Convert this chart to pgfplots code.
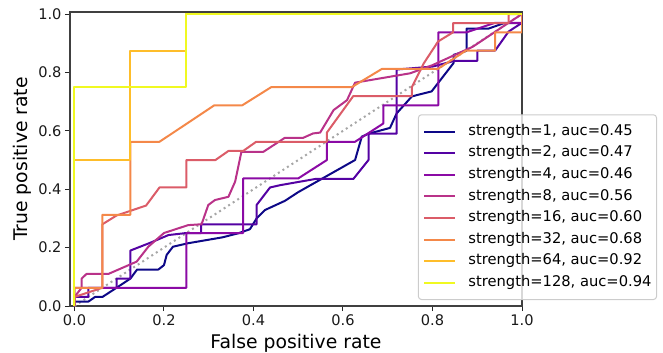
\documentclass[border=0pt]{standalone}
\usepackage{fontspec}
\setmainfont{DejaVu Sans}
\usepackage{pgfplots}
\pgfplotsset{compat=1.18}
\definecolor{p1}{HTML}{0D0887}
\definecolor{p2}{HTML}{5402A3}
\definecolor{p3}{HTML}{8B0AA5}
\definecolor{p4}{HTML}{B93289}
\definecolor{p5}{HTML}{DB5C68}
\definecolor{p6}{HTML}{F48849}
\definecolor{p7}{HTML}{FEBD2A}
\definecolor{p8}{HTML}{F0F921}
\begin{document}
\begin{tikzpicture}
\useasboundingbox (-70bp,-47bp) rectangle (593bp,306bp);
\begin{axis}[
  at={(0,0)}, anchor=south west,
  scale only axis, width=452bp, height=294bp,
  xmin=-0.01, xmax=1, ymin=0, ymax=1.007,
  xtick={0,0.2,0.4,0.6,0.8,1.0}, ytick={0,0.2,0.4,0.6,0.8,1.0},
  xtick pos=lower, ytick pos=left,
  tick align=outside, major tick length=5bp,
  tick style={black!85, line width=1bp},
  axis line style={black!75, line width=1.1bp},
  /pgf/number format/.cd, fixed, fixed zerofill, precision=1, assume math mode=true,
  /pgfplots/.cd,
  tick label style={font=\fontsize{14.6bp}{17bp}\selectfont, black!90},
  xlabel={False positive rate}, ylabel={True positive rate},
  label style={font=\fontsize{18.8bp}{22bp}\selectfont},
  xlabel style={at={([yshift=-42bp]axis description cs:0.5,0)}, anchor=base},
  ylabel style={at={([xshift=-42bp]axis description cs:0,0.5)}, anchor=base},
  every axis plot/.append style={line width=2bp, line join=round},
  legend image code/.code={\draw[#1] (0bp,0bp) -- (31bp,0bp);},
  legend cell align=left,
  legend style={at={(1.2987,0.0204)}, anchor=south east,
    draw=black!20, line width=1bp, fill=white, fill opacity=0.8, text opacity=1,
    rounded corners=3bp,
    font=\fontsize{14.7bp}{17bp}\selectfont,
    nodes={inner sep=0pt, text height=11bp, text depth=3.5bp},
    /tikz/every odd column/.append style={column sep=12bp},
    row sep=7.1bp, inner xsep=5bp, inner ysep=9.5bp},
]
\addplot[forget plot, gray!70, line width=2bp, dash pattern=on 2bp off 3.4bp] coordinates {(0,0) (1,1)};
\addplot[p1] coordinates {(0,0) (0,0.015) (0.031,0.015) (0.046,0.031) (0.0625,0.031) (0.094,0.0625) (0.125,0.094) (0.14,0.125) (0.1875,0.125) (0.2,0.14) (0.206,0.175) (0.22,0.203) (0.254,0.215) (0.33,0.235) (0.366,0.249) (0.392,0.263) (0.407,0.3) (0.426,0.329) (0.47,0.36) (0.5,0.39) (0.627,0.5) (0.642,0.58) (0.657,0.59) (0.705,0.61) (0.72,0.66) (0.754,0.718) (0.798,0.735) (0.847,0.832) (0.847,0.86) (0.876,0.874) (0.876,0.95) (0.925,0.95) (0.96,0.969) (1,0.969) (1,1)};
\addlegendentry{strength=1, auc=0.45}
\addplot[p2] coordinates {(0,0) (0,0.031) (0.031,0.031) (0.031,0.0625) (0.094,0.0625) (0.094,0.094) (0.125,0.094) (0.125,0.19) (0.17,0.217) (0.21,0.243) (0.25,0.25) (0.283,0.25) (0.283,0.28) (0.407,0.28) (0.407,0.346) (0.437,0.406) (0.46,0.414) (0.538,0.435) (0.623,0.435) (0.657,0.5) (0.657,0.59) (0.72,0.59) (0.72,0.81) (0.8,0.82) (0.85,0.84) (0.9,0.84) (0.9,0.875) (0.94,0.875) (0.97,0.94) (1,0.97) (1,1)};
\addlegendentry{strength=2, auc=0.47}
\addplot[p3] coordinates {(0,0) (0,0.0625) (0.25,0.0625) (0.25,0.25) (0.377,0.25) (0.377,0.437) (0.5,0.437) (0.564,0.5) (0.564,0.5625) (0.627,0.5625) (0.69,0.625) (0.69,0.6875) (0.813,0.6875) (0.813,0.9375) (0.876,0.9375) (0.94,0.97) (1,0.97) (1,1)};
\addlegendentry{strength=4, auc=0.46}
\addplot[p4] coordinates {(0,0) (0,0.031) (0.016,0.0625) (0.016,0.094) (0.027,0.11) (0.076,0.11) (0.139,0.152) (0.165,0.203) (0.2,0.25) (0.254,0.277) (0.284,0.28) (0.299,0.346) (0.314,0.363) (0.344,0.374) (0.359,0.426) (0.373,0.528) (0.422,0.528) (0.47,0.576) (0.511,0.576) (0.533,0.591) (0.549,0.594) (0.579,0.671) (0.609,0.705) (0.627,0.765) (0.75,0.797) (0.8,0.825) (0.89,0.888) (0.97,0.97) (0.99,0.99) (1,1)};
\addlegendentry{strength=8, auc=0.56}
\addplot[p5] coordinates {(0,0) (0,0.031) (0.0625,0.0625) (0.0625,0.28) (0.094,0.31) (0.16,0.344) (0.19,0.406) (0.25,0.406) (0.25,0.5) (0.315,0.5) (0.344,0.531) (0.377,0.531) (0.406,0.5625) (0.564,0.5625) (0.564,0.594) (0.623,0.719) (0.754,0.719) (0.754,0.75) (0.78,0.83) (0.8125,0.906) (0.846,0.9375) (0.846,0.969) (0.97,0.969) (0.97,1) (1,1)};
\addlegendentry{strength=16, auc=0.60}
\addplot[p6] coordinates {(0,0) (0,0.0625) (0.0625,0.0625) (0.0625,0.3125) (0.125,0.3125) (0.125,0.5625) (0.19,0.5625) (0.3125,0.6875) (0.375,0.6875) (0.44,0.75) (0.62,0.75) (0.6875,0.8125) (0.8125,0.8125) (0.875,0.875) (0.94,0.875) (0.94,0.9375) (1,0.9375) (1,1)};
\addlegendentry{strength=32, auc=0.68}
\addplot[p7] coordinates {(0,0) (0,0.5) (0.125,0.5) (0.125,0.875) (0.25,0.875) (0.25,1) (1,1)};
\addlegendentry{strength=64, auc=0.92}
\addplot[p8] coordinates {(0,0) (0,0.75) (0.25,0.75) (0.25,1) (1,1)};
\addlegendentry{strength=128, auc=0.94}
\end{axis}
\end{tikzpicture}
\end{document}
